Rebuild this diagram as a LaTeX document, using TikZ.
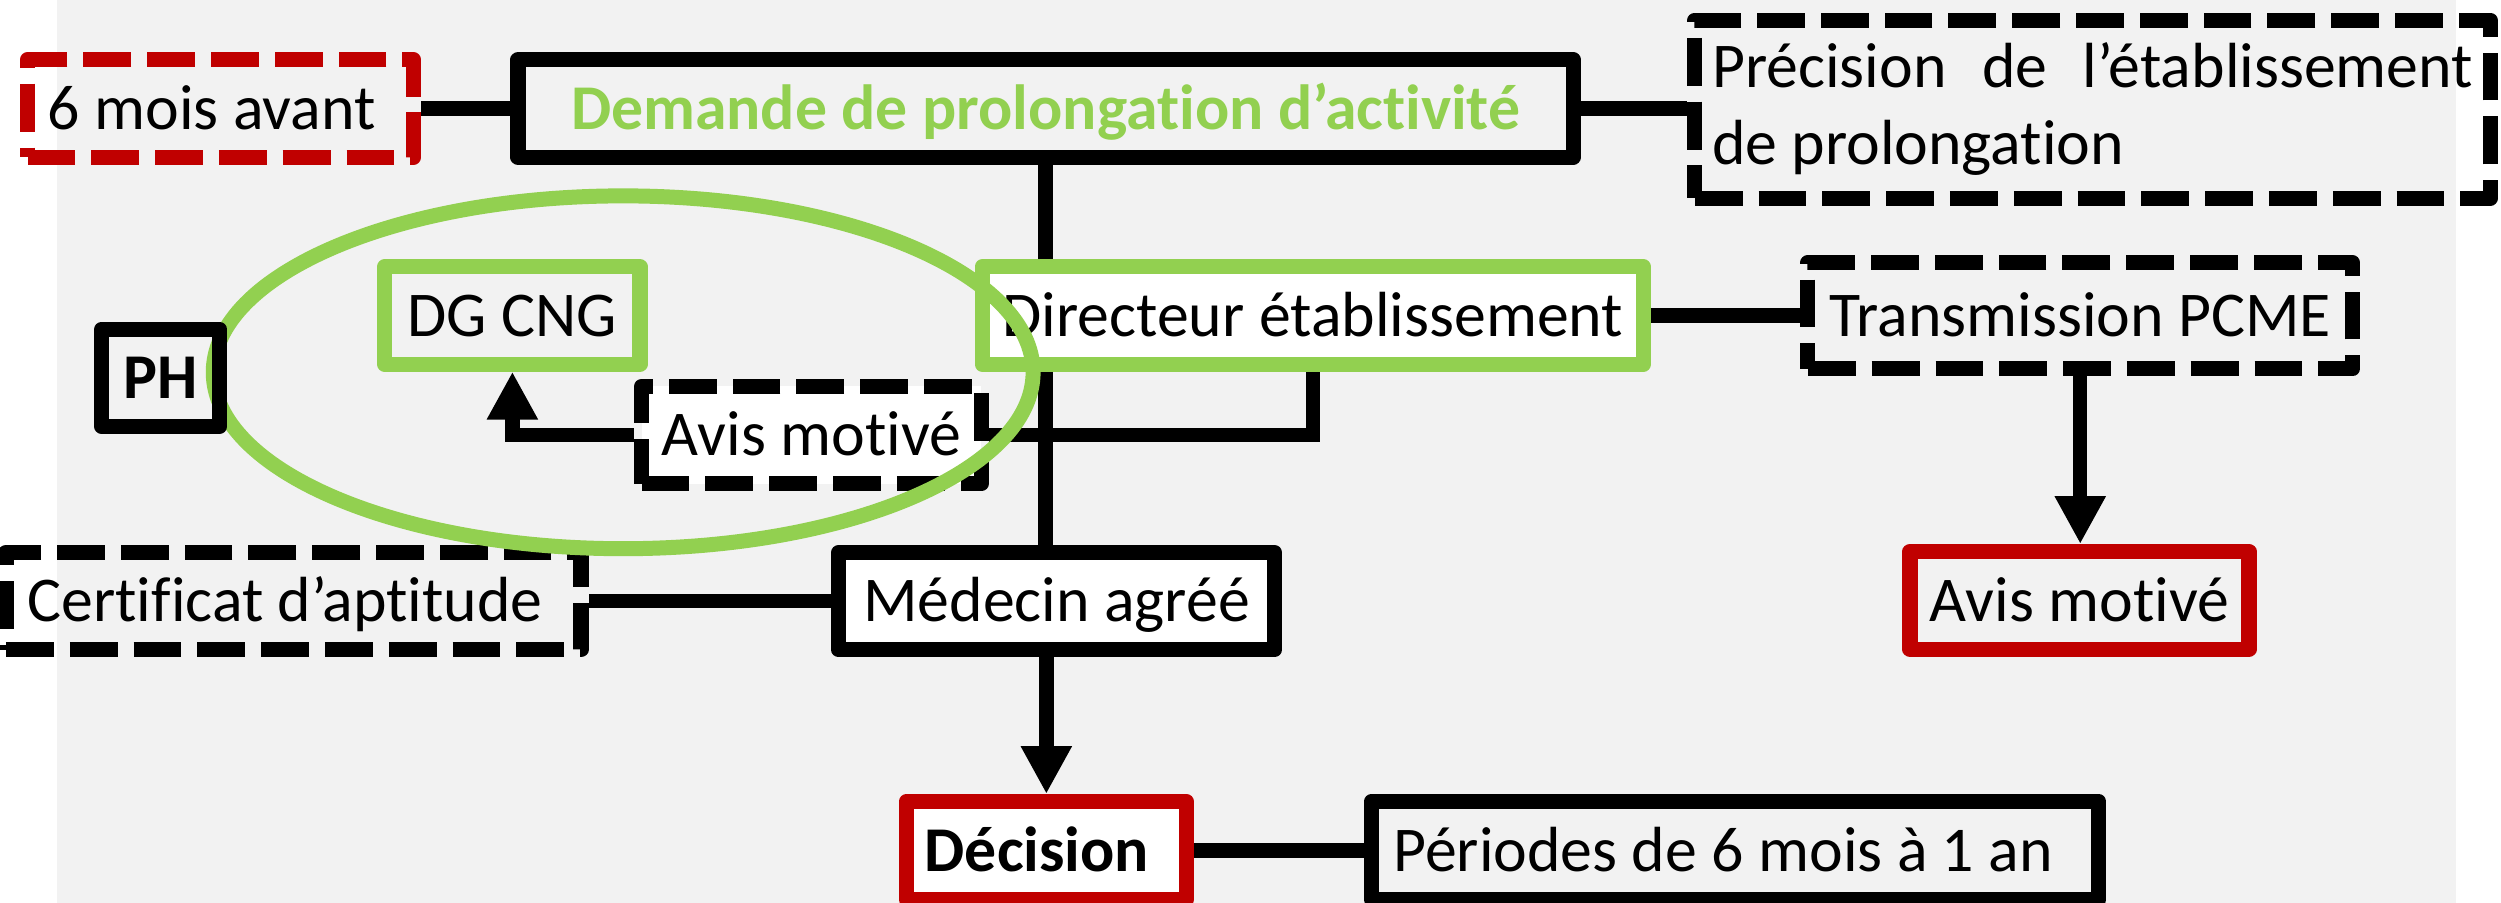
\documentclass[tikz,border=0pt]{standalone}
\usepackage{fontspec}
\setmainfont{Carlito}[Ligatures=NoCommon]
\usetikzlibrary{arrows.meta}
\definecolor{vgreen}{HTML}{92D050}
\definecolor{dred}{HTML}{C00000}
\definecolor{bggray}{HTML}{F2F2F2}
\pgfdeclarelayer{back}
\pgfdeclarelayer{links}
\pgfsetlayers{back,links,main}
\newcommand\fsz{\fontsize{40}{48}\selectfont}
\begin{document}
\begin{tikzpicture}[x=1pt,y=-1pt,
  boxbase/.style={draw, line width=9.5pt, line join=round, minimum height=61pt,
    inner sep=0pt, font=\fsz, anchor=center},
  box/.style={boxbase, text height=26pt, text depth=0pt},
  dbox/.style={box, dash pattern=on 30pt off 10pt},
  conn/.style={line width=9pt},
  arr/.style={conn, -{Triangle[length=30pt,width=30pt]}},
  ring/.style={draw=vgreen, line width=9.4pt}
]
\useasboundingbox (0,0) rectangle (1568,566.1);
\begin{pgfonlayer}{back}
  \fill[bggray] (35.5,0) rectangle (1539.5,566.1);
\end{pgfonlayer}

% boxes
\node[dbox, draw=dred, minimum width=242pt, inner xsep=12.75pt]
  (sixmois) at (138.25,68) {\makebox[216.5pt][l]{6 mois avant}};
\node[box, minimum width=661.5pt, text=vgreen, font=\fsz\bfseries]
  (demande) at (655.5,68) {Demande de prolongation d’activité};
\node[boxbase, dash pattern=on 30pt off 10pt, minimum width=498.75pt, minimum height=111.5pt,
  inner xsep=10.875pt, text height=26pt, text depth=53pt]
  (precision) at (1311.9,68.5)
  {\parbox[t]{477pt}{\makebox[477pt][s]{Précision de l’établissement}\newline de prolongation}};
\node[box, draw=vgreen, fill=white, minimum width=414.5pt]
  (directeur) at (823,197.8) {Directeur établissement};
\node[dbox, minimum width=341.5pt, minimum height=66.5pt]
  (transmission) at (1304.2,198) {Transmission PCME};
\node[box, draw=dred, minimum width=212.5pt, minimum height=61.25pt]
  (avisred) at (1303.7,376.4) {Avis motivé};
\node[box, fill=white, minimum width=273.25pt]
  (medecin) at (662.4,376.9) {Médecin agréé};
\node[dbox, minimum width=360.5pt, inner xsep=13.5pt]
  (certificat) at (184,376.8) {\makebox[333.5pt][l]{Certificat d’aptitude}};
\node[box, draw=dred, fill=white, minimum width=175.5pt, minimum height=61.5pt,
  inner xsep=11.5pt, font=\fsz\bfseries]
  (decision) at (656,533.25) {\makebox[152.5pt][l]{Décision}};
\node[box, minimum width=456pt, minimum height=61.5pt, inner xsep=13.75pt]
  (periodes) at (1087.8,533.25) {\makebox[428.5pt][l]{Périodes de 6 mois à 1 an}};
\node[box, draw=vgreen, minimum width=160pt]
  (dgcng) at (321.25,197.8) {DG CNG};
\node[dbox, fill=white, minimum width=213pt]
  (avis) at (508.75,272.8) {Avis motivé};

% connectors
\begin{pgfonlayer}{links}
  \draw[conn] (sixmois.east) -- (demande.west);
  \draw[conn] (demande.east) -- (demande.east -| precision.west);
  \draw[conn] (demande.south) -- (demande.south |- medecin.north);
  \draw[arr] (decision.north |- medecin.south) -- (decision.north);
  \draw[conn] (directeur.east) -- (directeur.east -| transmission.west);
  \draw[arr] (transmission.south) -- (transmission.south |- avisred.north);
  \draw[conn] (medecin.west) -- (medecin.west -| certificat.east);
  \draw[conn] (decision.east) -- (decision.east -| periodes.west);
  \draw[conn] (directeur.south) |- (avis.east);
  \draw[arr] (avis.west) -| (dgcng.south);
\end{pgfonlayer}

% green ring
\path[ring] (390.7,233.4) ellipse [x radius=257pt, y radius=110.6pt];

\node[box, minimum width=74pt, minimum height=60.8pt, font=\fsz\bfseries]
  (ph) at (100.75,236.85) {PH};
\end{tikzpicture}
\end{document}
